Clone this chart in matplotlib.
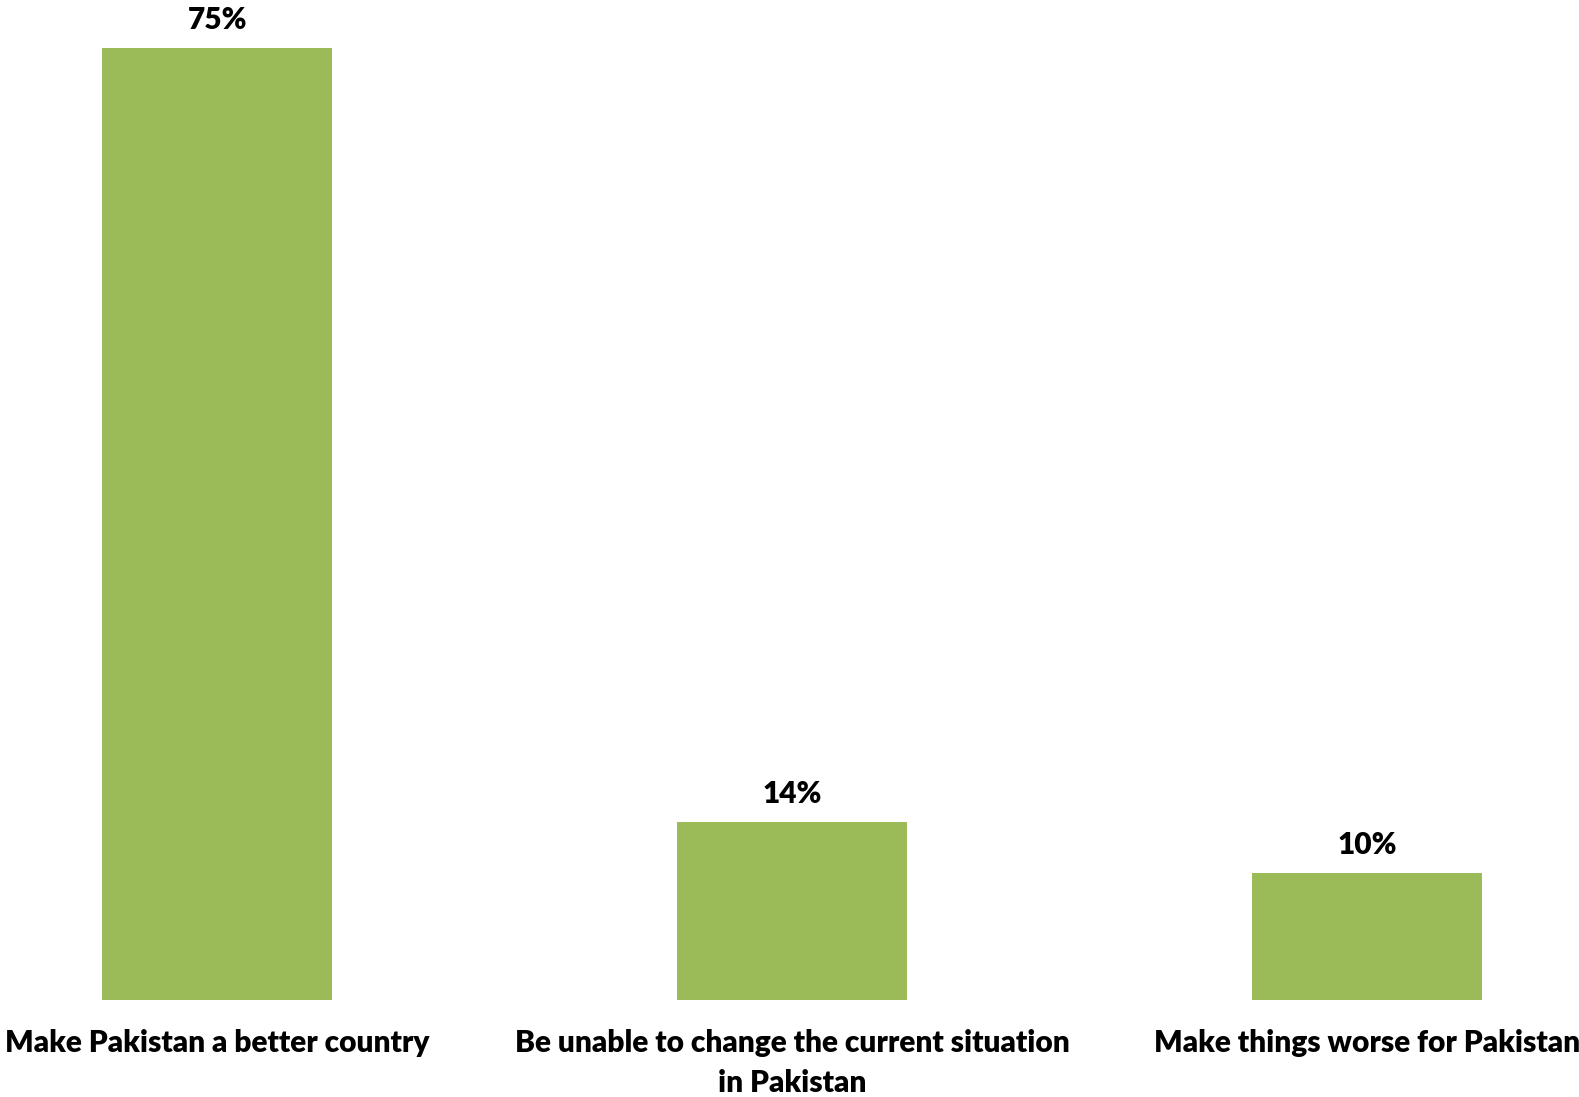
import matplotlib.pyplot as plt

categories = ['Make Pakistan a better country',
              'Be unable to change the current situation\nin Pakistan',
              'Make things worse for Pakistan']
values = [75, 14, 10]
value_labels = ['75%', '14%', '10%']

plt.rcParams['font.family'] = ['Lato', 'DejaVu Sans']

fig = plt.figure(figsize=(15.79, 10.97), dpi=100)
ax = fig.add_axes([0, 97 / 1097, 1, 990.6 / 1097])

x = range(len(categories))
bars = ax.bar(x, values, width=0.4, color='#9BBB59')
for b, lab in zip(bars, value_labels):
    ax.annotate(lab, (b.get_x() + b.get_width() / 2, b.get_height()),
                xytext=(0, 10), textcoords='offset points',
                ha='center', va='bottom', fontsize=21.5, fontweight='heavy')

ax.set_xlim(-0.378, 2.368)
ax.set_ylim(0, 78)
ax.set_xticks(list(x))
ax.set_xticklabels(categories, fontsize=21.5, fontweight='heavy', linespacing=1.5)
ax.tick_params(axis='x', length=0, pad=21)
ax.set_yticks([])
for s in ax.spines.values():
    s.set_visible(False)

fig.savefig('out.png', dpi=100)
